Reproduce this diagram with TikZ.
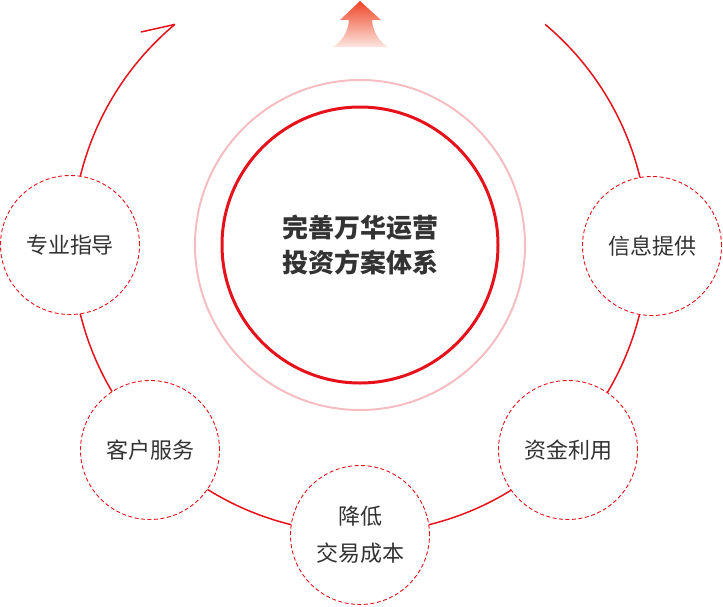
\documentclass[tikz,border=0pt]{standalone}
\usepackage{fontspec}
\newfontfamily\cjk{Noto Sans CJK SC}
\definecolor{wh-red}{HTML}{E5121C}
\definecolor{wh-pink}{HTML}{F5BDC1}
\definecolor{wh-text}{HTML}{333333}
\definecolor{arrow-top}{HTML}{EE4526}
\definecolor{arrow-bot}{HTML}{FDE6E1}

\begin{document}
\begin{tikzpicture}[x=1pt, y=-1pt,
    every node/.style={font=\cjk, text=wh-text},
    petal/.style={circle, draw=wh-red, dash pattern=on 4pt off 2.5pt,
      line width=0.9pt, fill=white, minimum size=139pt, inner sep=0pt,
      align=center, font=\cjk\fontsize{22}{37}\selectfont}]
  \useasboundingbox (0,0) rectangle (723,606);
  % centre: pale ring, red ring with the title
  % Coordinates: pixels of the picture, y downwards
  \node[circle, draw=wh-pink, line width=2pt, minimum size=330pt,
        inner sep=0pt] (ring) at (360,245) {};
  \node[circle, draw=wh-red, line width=3pt, minimum size=276pt,
        inner sep=0pt, align=center,
        font=\cjk\bfseries\fontsize{26}{35}\selectfont]
        (hub) at (360,245) {完善万华运营\\投资方案体系};
  % big loop round the hub, open at the top, half arrow at its left end
  \draw[wh-red, line width=1.5pt] (hub.center) ++(230:288) coordinate (tip)
        arc[start angle=230, end angle=-50, radius=288];
  \coordinate (barb) at (141,32);
  \draw[wh-red, line width=1.5pt] (tip) -- (barb);
  % upward arrow in the gap
  \shade[top color=arrow-top, bottom color=arrow-bot]
        (360,1) -- (381,20) -- (372,20) .. controls (373,33) and (380,42) .. (388,47)
        -- (333,47) .. controls (341,42) and (348,33) .. (349,20) -- (340,20) -- cycle;
  % the five steps on the loop
  \node[petal] (guide) at (70,245) {专业指导};
  \node[petal] (info) at (652,246) {信息提供};
  \node[petal] (service) at (150,450) {客户服务};
  \node[petal] (funds) at (568,450) {资金利用};
  \node[petal] (cost) at (360,535) {降低\\交易成本};
\end{tikzpicture}
\end{document}
